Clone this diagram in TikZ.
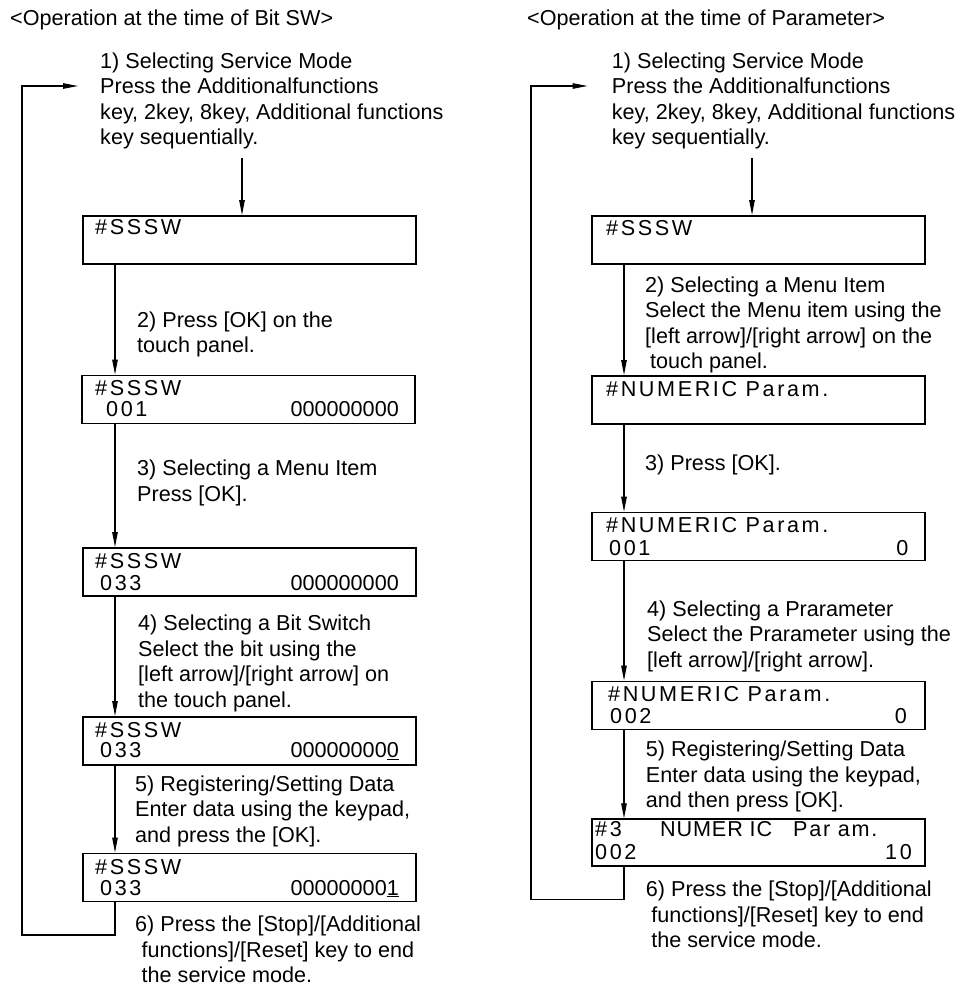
\documentclass[tikz,border=0pt]{standalone}
\usepackage{fontspec}
\setmainfont{Liberation Sans}
\newfontfamily\lcdfont[LetterSpace=12]{Liberation Sans}
\newfontfamily\lcdfontb[LetterSpace=4]{Liberation Sans}
\newfontfamily\lcdfontc[LetterSpace=8]{Liberation Sans}
\usetikzlibrary{arrows.meta}
\newcommand\stxt{\fontsize{21.6}{25.5}\selectfont}
\newcommand\ltxt{\fontsize{21.6}{25.5}\selectfont\lcdfont}
\newcommand\ml[1]{\begin{tabular}[t]{@{}l@{}}#1\end{tabular}}
\tikzset{
 txt/.style={anchor=base west, inner sep=0pt, font=\stxt},
 lcd/.style={anchor=base west, inner sep=0pt, font=\ltxt},
 lcdr/.style={anchor=base east, inner sep=0pt, font=\stxt},
 box/.style={draw, line width=1.6pt, minimum width=333pt, minimum height=48pt, anchor=north west, inner sep=0pt},
 arr/.style={line width=1.1pt, -{Triangle[length=15pt,width=5.5pt]}},
}
\begin{document}
\begin{tikzpicture}[x=1pt,y=-1pt]
\useasboundingbox (0,0) rectangle (965,987);
% ================= LEFT COLUMN =================
\node[txt] (tL) at (10,26) {<Operation at the time of Bit SW>};
\node[txt] (s1L) at (100,68.5) {\ml{1) Selecting Service Mode\\Press the Additionalfunctions\\key, 2key, 8key, Additional functions\\key sequentially.}};
\node[box] (b1L) at (82,215) {};
\node[lcd] (b1La) at (95,234.5) {\#SSSW};
\node[txt] (s2L) at (137,327) {\ml{2) Press [OK] on the\\touch panel.}};
\node[box] (b2L) at (81,374.5) {};
\node[lcd] (b2La) at (95,395) {\#SSSW};
\node[lcd] (b2Lb) at (106,416.5) {001};
\node[lcdr] (b2Lc) at (399,416.5) {000000000};
\node[txt] (s3L) at (137,475.7) {\ml{3) Selecting a Menu Item\\Press [OK].}};
\node[box] (b3L) at (82,547) {};
\node[lcd] (b3La) at (95,568.3) {\#SSSW};
\node[lcd] (b3Lb) at (100,590) {033};
\node[lcdr] (b3Lc) at (399,590) {000000000};
\node[txt] (s4L) at (138,630.7) {\ml{4) Selecting a Bit Switch\\Select the bit using the\\[0pt][left arrow]/[right arrow] on\\the touch panel.}};
\node[box] (b4L) at (82,716) {};
\node[lcd] (b4La) at (95,737.7) {\#SSSW};
\node[lcd] (b4Lb) at (100,757.3) {033};
\node[lcdr] (b4Lc) at (399,757.3) {00000000\underline{0}};
\node[txt] (s5L) at (135,791) {\ml{5) Registering/Setting Data\\Enter data using the keypad,\\and press the [OK].}};
\node[box] (b5L) at (82,852.5) {};
\node[lcd] (b5La) at (95,874) {\#SSSW};
\node[lcd] (b5Lb) at (100,895) {033};
\node[lcdr] (b5Lc) at (399,895) {00000000\underline{1}};
\node[txt] (s6L) at (135,931.7) {\ml{6) Press the [Stop]/[Additional\\\hspace*{6.5pt}functions]/[Reset] key to end\\\hspace*{6.5pt}the service mode.}};
% connectors left
\coordinate (aL) at (242,158);
\coordinate (xL) at (115,0);
\coordinate (lbL) at (22,935);
\coordinate (ltL) at (22,86);
\coordinate (laL) at (78,86);
\draw[arr] (aL) -- (b1L.north -| aL);
\draw[arr] (b1L.south -| xL) -- (b2L.north -| xL);
\draw[arr] (b2L.south -| xL) -- (b3L.north -| xL);
\draw[arr] (b3L.south -| xL) -- (b4L.north -| xL);
\draw[arr] (b4L.south -| xL) -- (b5L.north -| xL);
\draw[arr] (b5L.south -| xL) |- (lbL) -- (ltL) -- (laL);
% ================= RIGHT COLUMN =================
\node[txt] (tR) at (527,26) {<Operation at the time of Parameter>};
\node[txt] (s1R) at (611.7,68.5) {\ml{1) Selecting Service Mode\\Press the Additionalfunctions\\key, 2key, 8key, Additional functions\\key sequentially.}};
\node[box] (b1R) at (591,215) {};
\node[lcd] (b1Ra) at (606,235) {\#SSSW};
\node[txt] (s2R) at (645,292) {\ml{2) Selecting a Menu Item\\Select the Menu item using the\\[0pt][left arrow]/[right arrow] on the\\\hspace*{5pt}touch panel.}};
\node[box] (b2R) at (591,375) {};
\node[lcd] (b2Ra) at (606,396) {\#NUMERIC Param.};
\node[txt] (s3R) at (645,470) {3) Press [OK].};
\node[box] (b3R) at (591,511.7) {};
\node[lcd] (b3Ra) at (606,532.7) {\#NUMERIC Param.};
\node[lcd] (b3Rb) at (609,555) {001};
\node[lcdr] (b3Rc) at (908.5,555) {0};
\node[txt] (s4R) at (647,616) {\ml{4) Selecting a Prarameter\\Select the Prarameter using the\\[0pt][left arrow]/[right arrow].}};
\node[box] (b4R) at (591,680.5) {};
\node[lcd] (b4Ra) at (608,701.7) {\#NUMERIC Param.};
\node[lcd] (b4Rb) at (610,723.3) {002};
\node[lcdr] (b4Rc) at (907,723.3) {0};
\node[txt] (s5R) at (645.7,756.7) {\ml{5) Registering/Setting Data\\Enter data using the keypad,\\and then press [OK].}};
\node[box, minimum height=47pt] (b5R) at (591,818.3) {};
\node[lcd] (b5Ra) at (595,836.7) {\#3};
\node[anchor=base west, inner sep=0pt, font=\stxt\lcdfontb] (b5Rb) at (660,836.7) {NUMER IC};
\node[anchor=base west, inner sep=0pt, font=\stxt\lcdfontc] (b5Rc) at (793,836.7) {Par am.};
\node[lcd] (b5Rd) at (595,859.3) {002};
\node[lcd, anchor=base east] (b5Re) at (912,859.3) {10};
\node[txt] (s6R) at (645.7,896.7) {\ml{6) Press the [Stop]/[Additional\\\hspace*{5.5pt}functions]/[Reset] key to end\\\hspace*{5.5pt}the service mode.}};
% connectors right
\coordinate (aR) at (752,158);
\coordinate (xR) at (624,0);
\coordinate (lbR) at (531,899.3);
\coordinate (ltR) at (531,86);
\coordinate (laR) at (587.5,86);
\draw[arr] (aR) -- (b1R.north -| aR);
\draw[arr] (b1R.south -| xR) -- (b2R.north -| xR);
\draw[arr] (b2R.south -| xR) -- (b3R.north -| xR);
\draw[arr] (b3R.south -| xR) -- (b4R.north -| xR);
\draw[arr] (b4R.south -| xR) -- (b5R.north -| xR);
\draw[arr] (b5R.south -| xR) |- (lbR) -- (ltR) -- (laR);
\end{tikzpicture}
\end{document}
